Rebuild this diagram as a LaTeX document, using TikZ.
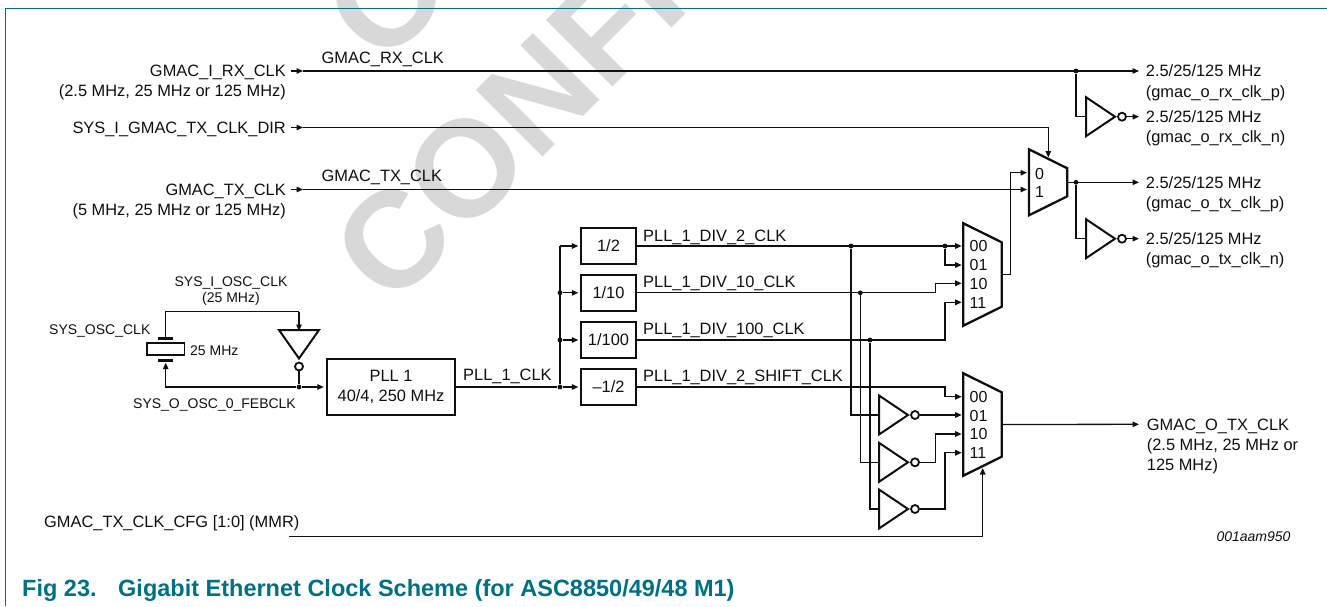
\documentclass[tikz,border=0pt]{standalone}
\usepackage{fontspec}
\setmainfont{Liberation Sans}
\usetikzlibrary{arrows.meta,calc}
\definecolor{nxpteal}{RGB}{0,112,135}
\definecolor{wmgray}{RGB}{216,216,216}
\definecolor{inkc}{RGB}{15,15,15}
\tikzset{
  x=1pt,y=-1pt,
  wire/.style={line width=1.3pt,draw=inkc},
  arr/.style={wire,-{Triangle[length=6.5pt,width=5.5pt]}},
  thick box/.style={draw=inkc,line width=2.3pt,line join=miter},
  divbox/.style={thick box,minimum width=55.5pt,minimum height=36pt,inner sep=0pt,font=\fontsize{16.4}{19}\selectfont,text=inkc},
  bub/.style={circle,draw=inkc,line width=1.8pt,minimum size=8pt,inner sep=0pt,fill=white},
  dot/.style={circle,fill=inkc,minimum size=4.8pt,inner sep=0pt},
  lab/.style={inner sep=0pt,text=inkc,font=\fontsize{16.4}{19}\selectfont},
  sml/.style={inner sep=0pt,text=inkc,font=\fontsize{14}{17}\selectfont},
  muxl/.style={inner sep=0pt,text=inkc,font=\fontsize{16}{19}\selectfont,anchor=base west},
  wm/.style={inner sep=0pt,text=wmgray,font=\bfseries\fontsize{137}{150}\selectfont,rotate=45},
  capt/.style={inner sep=0pt,anchor=base west,text=nxpteal,font=\bfseries\fontsize{23.5}{28}\selectfont},
}
% right-pointing inverter: name, left x, centre y
\newcommand{\rinv}[3]{%
  \draw[thick box,line width=2pt] (#2,#3-19.5) -- (#2,#3+19.5) -- (#2+29,#3) -- cycle;
  \coordinate (#1i) at (#2,#3);
  \node[bub] (#1o) at (#2+36,#3) {};
}
% mux: name, left x, top y, right x, straight height of right side
\newcommand{\muxshape}[5]{%
  \draw[thick box] (#2,#3) -- (#4,#3+19) -- (#4,#3+19+#5) -- (#2,#3+38+#5) -- cycle;
  \coordinate (#1o) at (#4,#3+19+#5/2);
}
\begin{document}
\begin{tikzpicture}
\useasboundingbox (0,0) rectangle (1327,606);
\begin{scope}
\clip (0,0) rectangle (1327,606);
\node[wm,anchor=base west] (wmc) at (391,309.2) {CONFI};
\node[wm] (wmo) at (387,-3) {O};
\end{scope}
% frame
\draw[nxpteal,line width=1.1pt] (5.5,606) -- (5.5,8.5) -- (1327,8.5);

% ---- nodes
\coordinate (rxin) at (291,71);
\coordinate (dirin) at (291,127.5);
\coordinate (txin) at (291,189.5);
\coordinate (rxt) at (303,71);
\coordinate (dirt) at (303,127.5);
\coordinate (txt) at (303,189.5);
\node[dot] (rxj) at (1076,71) {};
\coordinate (rxout) at (1139,71);
\rinv{rxn}{1086}{116.7}
\coordinate (rxnout) at (1139,116.7);
\coordinate (dirc) at (1048.3,127.5);
\coordinate (dirend) at (1048.3,157.5);

\muxshape{mt}{1029}{149.3}{1067.3}{28}
\coordinate (mt0) at (1027,172.7);
\coordinate (mt1) at (1027,189.5);
\coordinate (mto) at (1067.3,182.3);
\node[dot] (txj) at (1076,182.3) {};
\coordinate (txout) at (1139,182.3);
\rinv{txn}{1086}{238.7}
\coordinate (txnout) at (1139,238.7);

% dividers
\node[divbox] (d2) at (608.5,246) {1/2};
\node[divbox] (d10) at (608.5,292.8) {1/10};
\node[divbox] (d100) at (608.5,340) {1/100};
\node[divbox] (ds) at (608.5,387) {–1/2};
\node[thick box,minimum width=128pt,minimum height=56.5pt,inner sep=0pt,align=center,font=\fontsize{16.4}{20}\selectfont,text=inkc] (pll) at (391,387) {PLL 1\\40/4, 250 MHz};

\node[dot] (bs) at (560,387) {};
\node[dot] (b100) at (560,340) {};
\node[dot] (b10) at (560,292.8) {};
\coordinate (b2) at (560,246);

% muxes
\muxshape{ma}{963.3}{223.3}{1001.7}{64.4}
\muxshape{mb}{963.3}{373.3}{1001.7}{64.4}
\coordinate (ma00) at (961.7,246);
\coordinate (ma01) at (961.7,265);
\coordinate (ma10) at (961.7,283.3);
\coordinate (ma11) at (961.7,302.3);
\coordinate (mb00) at (961.7,396.7);
\coordinate (mb01) at (961.7,415);
\coordinate (mb10) at (961.7,434);
\coordinate (mb11) at (961.7,452.7);
\coordinate (maout) at (1001.7,274.3);

\rinv{ia}{879}{415}
\rinv{ib}{879}{462.3}
\rinv{ic}{879}{509}

\node[dot] (j2a) at (851,246) {};
\node[dot] (j2b) at (945,246) {};
\node[dot] (j10) at (860.3,292.8) {};
\node[dot] (j100) at (870,340) {};

% ---- wires
\draw[arr] (rxin) -- (rxt);
\draw[arr] (dirin) -- (dirt);
\draw[arr] (txin) -- (txt);
\draw[arr] (rxt) -- (rxout);
\draw[wire] (rxj) |- (rxni);
\draw[arr] (rxno) -- (rxnout);
\draw[arr] (dirt) -- (dirc) -- (dirend);
\draw[arr] (txt) -- (mt1);
\draw[arr] (maout) -- (1010.7,274.3) -- (1010.7,172.7) -- (mt0);
\draw[arr] (mto) -- (txout);
\draw[wire] (txj) |- (txni);
\draw[arr] (txno) -- (txnout);

% oscillator
\coordinate (oscL) at (165.7,387);
\coordinate (oscTop) at (165.7,311.7);
\coordinate (oscUp) at (165.7,362.7);
\coordinate (oscPlT) at (165.7,338);
\coordinate (oscR) at (299,311.7);
\coordinate (oscIn) at (299,331);
\draw[thick box,line width=1.7pt] (147,343.3) rectangle (184.5,355);
\draw[inkc,line width=3pt] (158,338) -- (173,338);
\draw[inkc,line width=3pt] (158,360.4) -- (173,360.4);
\draw[thick box,line width=2pt] (279,330) -- (319,330) -- (299,358.5) -- cycle;
\node[bub] (oscb) at (299,366.5) {};
\node[dot] (oscJ) at (299,387) {};
\draw[wire] (oscPlT) -- (oscTop) -- (oscR);
\draw[arr] (oscR) -- (oscIn);
\draw[wire] (oscb) -- (oscJ);
\draw[arr,shorten >=2pt] (oscJ) -- (pll.west);
\draw[arr] (oscJ) -- (oscL) -- (oscUp);

% clock bus
\draw[wire] (pll.east) -- (bs);
\draw[wire] (bs) -- (b2);
\draw[arr,shorten >=1.3pt] (bs) -- (ds.west);
\draw[arr,shorten >=1.3pt] (b100) -- (d100.west);
\draw[arr,shorten >=1.3pt] (b10) -- (d10.west);
\draw[arr,shorten >=1.3pt] (b2) -- (d2.west);

\draw[arr] (d2.east) -- (ma00);
\draw[arr] (j2b) |- (ma01);
\draw[arr] (d10.east) -- (935.7,292.8) |- (ma10);
\draw[arr] (d100.east) -- (945,340) |- (ma11);
\draw[arr] (ds.east) -- (945,387) |- (mb00);

\draw[wire] (j2a) |- (iai);
\draw[wire] (j10) |- (ibi);
\draw[wire] (j100) |- (ici);
\draw[arr] (iao) -- (mb01);
\draw[arr] (ibo) -- (935.7,462.3) |- (mb10);
\draw[arr] (ico) -- (945,509) |- (mb11);

\coordinate (cfgin) at (289,536.7);
\coordinate (cfgc) at (982.7,536.7);
\coordinate (cfgt) at (982.7,468);
\draw[arr] (cfgin) -- (cfgc) -- (cfgt);
\coordinate (mbout) at (1139,424.3);
\draw[arr] (mbo) -- (mbout);

% ---- labels
\node[lab,anchor=base east] (l1) at (286,76.9) {GMAC\_I\_RX\_CLK};
\node[lab,anchor=base east] (l2) at (286,96.9) {(2.5 MHz, 25 MHz or 125 MHz)};
\node[lab,anchor=base east] (l3) at (286,133.2) {SYS\_I\_GMAC\_TX\_CLK\_DIR};
\node[lab,anchor=base east] (l4) at (286,195.2) {GMAC\_TX\_CLK};
\node[lab,anchor=base east] (l5) at (286,215.2) {(5 MHz, 25 MHz or 125 MHz)};
\node[lab,anchor=base west] (l6) at (321.5,63.7) {GMAC\_RX\_CLK};
\node[lab,anchor=base west] (l7) at (321.5,181.7) {GMAC\_TX\_CLK};
\foreach \n/\y/\t in {a/71/{2.5/25/125 MHz},b/91.5/{(gmac\_o\_rx\_clk\_p)},c/116.7/{2.5/25/125 MHz},d/137/{(gmac\_o\_rx\_clk\_n)},e/182.3/{2.5/25/125 MHz},f/202.8/{(gmac\_o\_tx\_clk\_p)},g/238.7/{2.5/25/125 MHz},h/259/{(gmac\_o\_tx\_clk\_n)}}
  \node[lab,anchor=base west] (r\n) at (1145.7,\y+5.9) {\t};
\node[lab,anchor=base west] (p1) at (463,380.6) {PLL\_1\_CLK};
\node[lab,anchor=base west] (p2) at (643,241) {PLL\_1\_DIV\_2\_CLK};
\node[lab,anchor=base west] (p3) at (643,287.7) {PLL\_1\_DIV\_10\_CLK};
\node[lab,anchor=base west] (p4) at (643,334.5) {PLL\_1\_DIV\_100\_CLK};
\node[lab,anchor=base west] (p5) at (643,381.5) {PLL\_1\_DIV\_2\_SHIFT\_CLK};
\node[sml,anchor=base] (o1) at (231,286) {SYS\_I\_OSC\_CLK};
\node[sml,anchor=base] (o2) at (231,302) {(25 MHz)};
\node[sml,anchor=base west] (o3) at (49,334) {SYS\_OSC\_CLK};
\node[sml,anchor=base west] (o4) at (190,355) {25 MHz};
\node[sml,anchor=base west] (o5) at (133,408) {SYS\_O\_OSC\_0\_FEBCLK};
\node[lab,anchor=base west] (c1) at (44,527.9) {GMAC\_TX\_CLK\_CFG [1:0] (MMR)};
\node[lab,anchor=base west] (g1) at (1146.7,430) {GMAC\_O\_TX\_CLK};
\node[lab,anchor=base west] (g2) at (1146.7,450.5) {(2.5 MHz, 25 MHz or};
\node[lab,anchor=base west] (g3) at (1146.7,470.7) {125 MHz)};
\node[sml,anchor=base east,font=\fontsize{14}{17}\selectfont\itshape] (id) at (1290.7,541.5) {001aam950};
\node[muxl] (m0) at (1035,179.5) {0};
\node[muxl] (m1) at (1035,197.5) {1};
\foreach \n/\y/\t in {a/251.7/00,b/270.7/01,c/289.2/10,d/308/11,e/402.5/00,f/421/01,g/439.7/10,h/458.2/11}
  \node[muxl] (x\n) at (969.5,\y) {\t};
\node[capt] (f1) at (22,596) {Fig 23.};
\node[capt] (f2) at (118,596) {Gigabit Ethernet Clock Scheme (for ASC8850/49/48 M1)};
\end{tikzpicture}
\end{document}
